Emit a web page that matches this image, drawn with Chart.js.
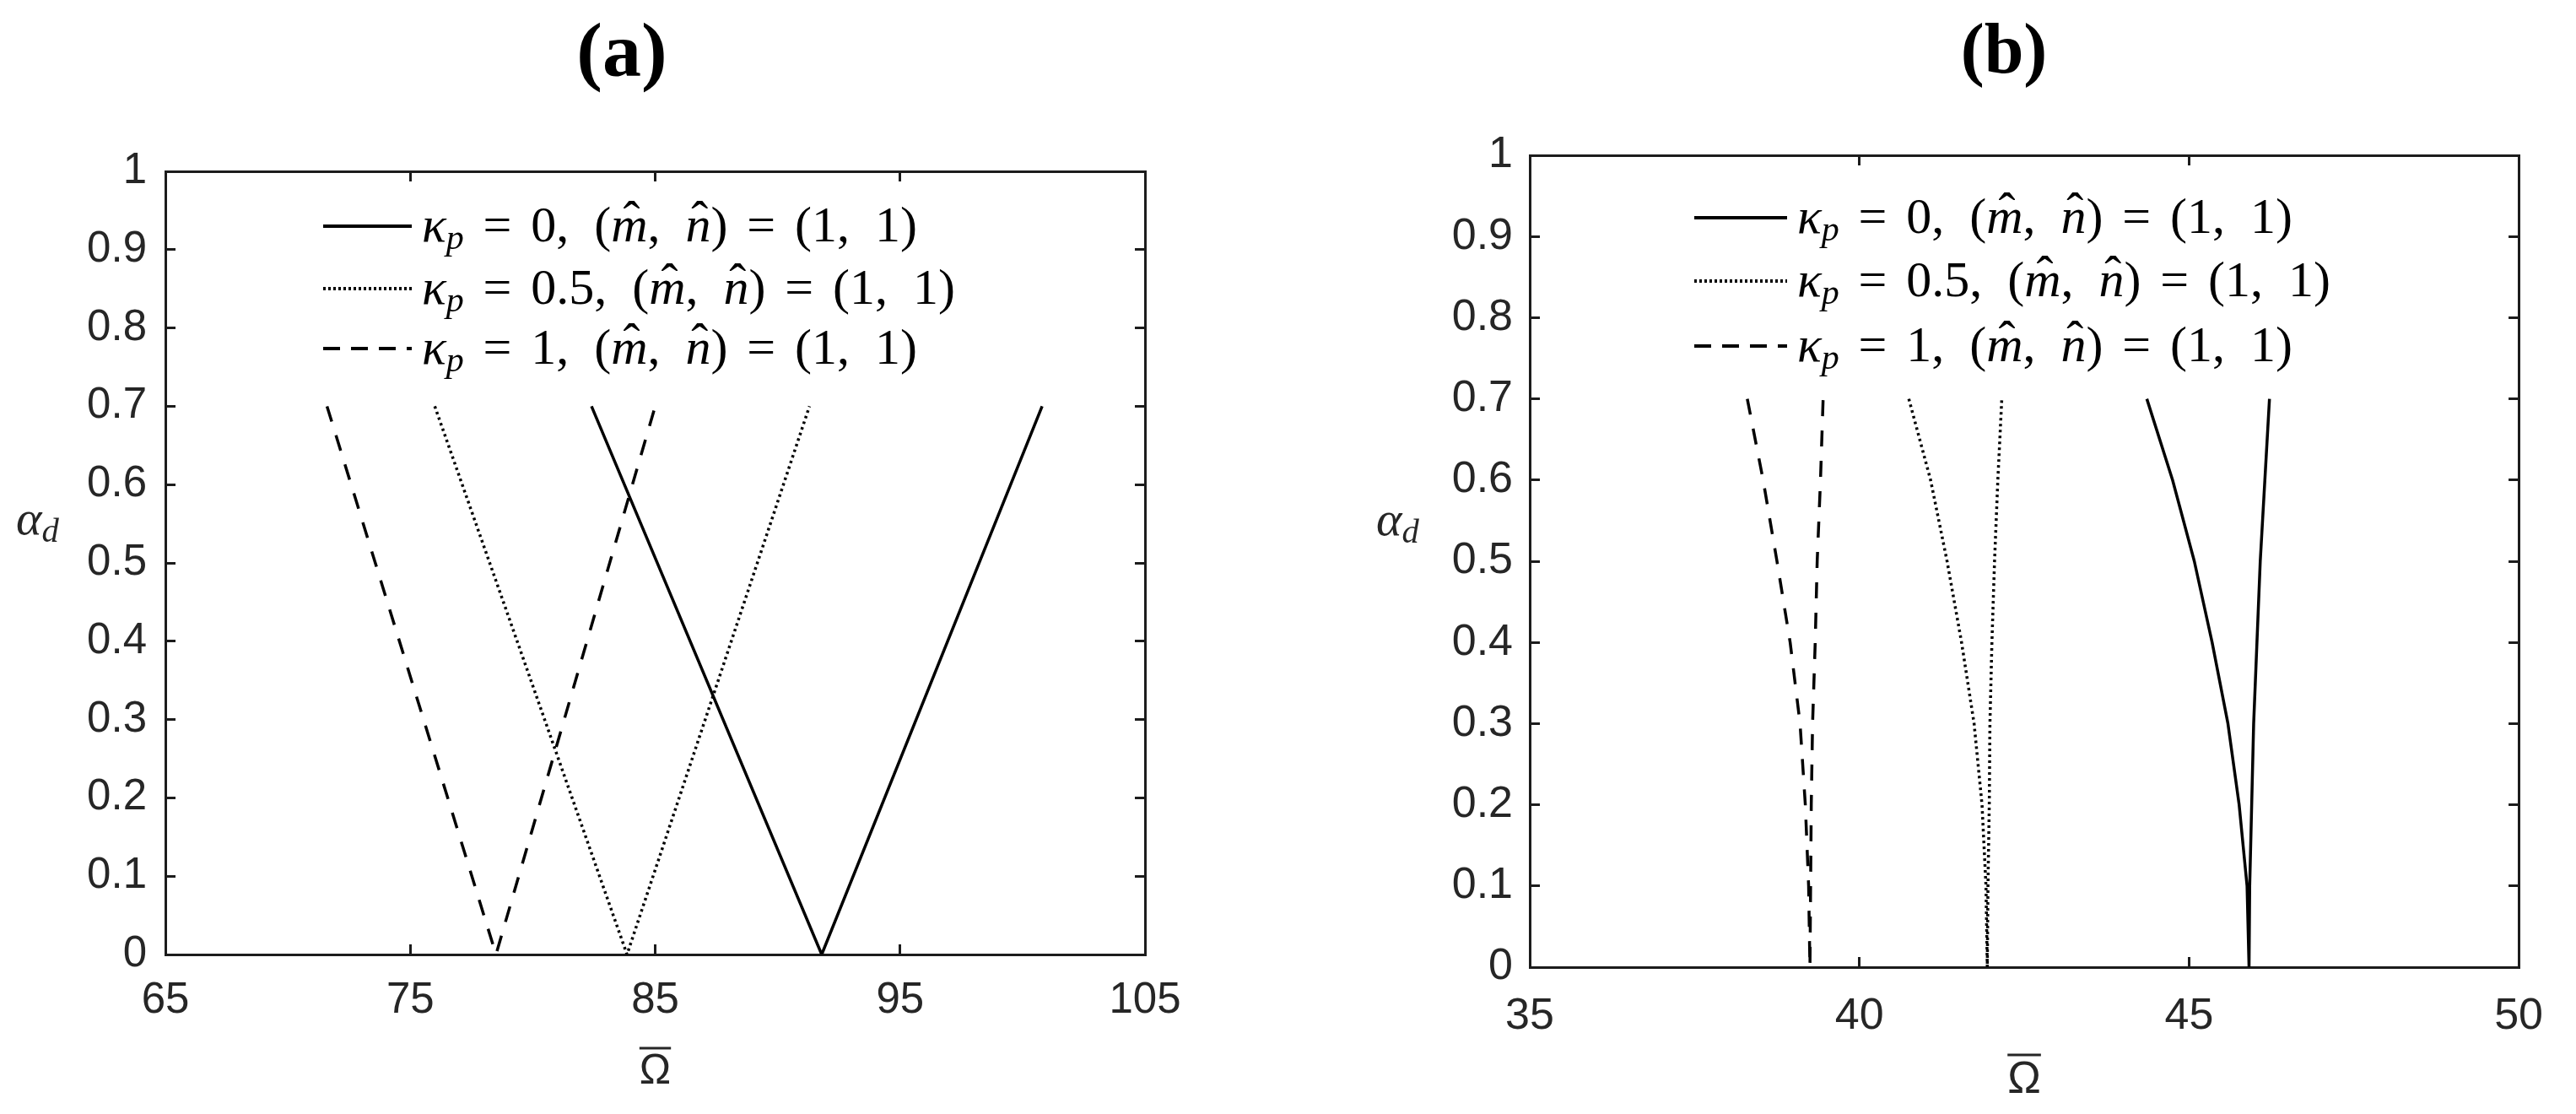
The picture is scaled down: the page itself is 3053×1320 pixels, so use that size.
<!DOCTYPE html>
<html>
<head>
<meta charset="utf-8">
<script src="https://cdn.jsdelivr.net/npm/chart.js@4.4.0/dist/chart.umd.min.js"></script>
<style>
  html, body { margin: 0; padding: 0; background: #ffffff; overflow: hidden; }
  #wrap { position: relative; width: 3053px; height: 1320px; background: #fff; }
  canvas { position: absolute; top: 0; }
  #ca { left: 0; }
  #cb { left: 1530px; }
</style>
</head>
<body>
<div id="wrap">
  <canvas id="ca" width="1500" height="1320"></canvas>
  <canvas id="cb" width="1523" height="1320"></canvas>
</div>
<script>
// ---------------- data ----------------
const panelTitles = ['(a)', '(b)'];
const seriesLabels = ['κ_p = 0, (m\u0302, n\u0302) = (1, 1)', 'κ_p = 0.5, (m\u0302, n\u0302) = (1, 1)', 'κ_p = 1, (m\u0302, n\u0302) = (1, 1)'];
const xAxisTitle = 'Ω';
const yAxisTitle = 'α_d';

const xTicksA = [65, 75, 85, 95, 105];
const xTickLabelsA = ['65', '75', '85', '95', '105'];
const xTicksB = [35, 40, 45, 50];
const xTickLabelsB = ['35', '40', '45', '50'];
const yTicks = [0, 0.1, 0.2, 0.3, 0.4, 0.5, 0.6, 0.7, 0.8, 0.9, 1];
const yTickLabels = ['0', '0.1', '0.2', '0.3', '0.4', '0.5', '0.6', '0.7', '0.8', '0.9', '1'];

// panel (a)
const aOmegaKp0 = [82.4, 91.8, 100.8];
const aAlphaKp0 = [0.7, 0, 0.7];
const aOmegaKp05 = [76.0, 83.85, 91.3];
const aAlphaKp05 = [0.7, 0, 0.7];
const aOmegaKp1 = [71.6, 78.5, 85.0];
const aAlphaKp1 = [0.7, 0, 0.7];

// panel (b)
const bAlpha = [0.7, 0.6, 0.5, 0.4, 0.3, 0.2, 0.1, 0, 0.1, 0.2, 0.3, 0.4, 0.5, 0.6, 0.7];
const bOmegaKp0 = [44.36, 44.75, 45.08, 45.35, 45.59, 45.76, 45.88, 45.91, 45.92, 45.95, 45.98, 46.03, 46.08, 46.15, 46.22];
const bOmegaKp05 = [40.75, 41.08, 41.33, 41.55, 41.74, 41.86, 41.92, 41.94, 41.95, 41.97, 41.98, 42.01, 42.05, 42.10, 42.16];
const bOmegaKp1 = [38.30, 38.54, 38.75, 38.95, 39.10, 39.18, 39.23, 39.25, 39.26, 39.27, 39.29, 39.33, 39.36, 39.41, 39.45];

// ---------------- styles ----------------
const AXIS_COLOR = '#1c1c1c';
const LINE_COLOR = '#000000';
const SANS = '"Liberation Sans", Arial, Helvetica, sans-serif';
const SERIF = '"Liberation Serif", "Times New Roman", serif';
const lineDashes = [[], [3, 4], [19, 17]];
const legendDashes = [[], [3, 3], [20, 13]];

function pts(xs, ys) { return xs.map((x, i) => ({ x: x, y: ys[i] })); }

function isLetter(c) { return /\p{L}/u.test(c); }

function drawMath(ctx, str, x, y, size, spacing) {
  let prev = '';
  ctx.textAlign = 'left';
  ctx.textBaseline = 'alphabetic';
  for (let i = 0; i < str.length; i++) {
    const ch = str[i];
    if (ch === '_') {
      const s = str[i + 1]; i++;
      const fs = size * 0.7;
      ctx.font = (isLetter(s) ? 'italic ' : '') + fs + 'px ' + SERIF;
      ctx.fillText(s, x, y + size * 0.15);
      x += ctx.measureText(s).width; prev = s; continue;
    }
    if (ch === ' ') { x += (prev === ',' ? spacing.comma : spacing.rel) * size; prev = ch; continue; }
    const hat = str[i + 1] === '\u0302';
    ctx.font = (isLetter(ch) ? 'italic ' : '') + size + 'px ' + SERIF;
    ctx.fillText(ch, x, y);
    const w = ctx.measureText(ch).width;
    if (hat) {
      ctx.font = size + 'px ' + SERIF;
      ctx.textAlign = 'center';
      ctx.fillText('\u02C6', x + w * 0.56, y - size * 0.12);
      ctx.textAlign = 'left';
      i++;
    }
    x += w; prev = ch;
  }
  return x;
}

const panelDecor = {
  id: 'panelDecor',
  afterDraw(chart, args, o) {
    const { ctx, chartArea } = chart;
    ctx.save();
    ctx.fillStyle = '#000';
    // panel title
    ctx.font = 'bold ' + o.titleSize + 'px ' + SERIF;
    ctx.textAlign = 'center';
    ctx.textBaseline = 'middle';
    ctx.fillText(o.title, o.titleX, o.titleY);
    // y-axis label (horizontal)
    ctx.fillStyle = '#262626';
    drawMath(ctx, yAxisTitle, chartArea.left + o.yLabelDX, chartArea.top + o.yLabelDY, o.yLabelSize, { rel: 0.3, comma: 0.3 });
    // overline of x-axis title
    const xs = chart.scales.x;
    const tOpt = xs.options.title;
    const lh = tOpt.font.size * 1.2;
    const tY = xs.bottom - lh / 2 - tOpt.padding.bottom;
    const tX = (xs.left + xs.right) / 2;
    ctx.font = tOpt.font.size + 'px ' + SANS;
    const ow = ctx.measureText(xAxisTitle).width;
    ctx.strokeStyle = '#262626';
    ctx.lineWidth = 3;
    ctx.beginPath();
    const oy = tY - tOpt.font.size * 0.36 - o.overlineGap;
    ctx.moveTo(tX - ow / 2, oy);
    ctx.lineTo(tX + ow / 2, oy);
    ctx.stroke();
    // legend
    ctx.fillStyle = '#000';
    chart.data.datasets.forEach((ds, i) => {
      const ly = chartArea.top + o.legendRows[i];
      ctx.strokeStyle = LINE_COLOR;
      ctx.lineWidth = 4;
      ctx.setLineDash(legendDashes[i]);
      ctx.beginPath();
      ctx.moveTo(chartArea.left + o.legendLine[0], ly);
      ctx.lineTo(chartArea.left + o.legendLine[1], ly);
      ctx.stroke();
      ctx.setLineDash([]);
      drawMath(ctx, ds.label, chartArea.left + o.legendTextX, ly + o.legendSize * 0.3, o.legendSize, { rel: 0.38, comma: 0.5 });
    });
    ctx.restore();
  }
};

function makeDatasets(series) {
  return series.map((s, i) => ({
    label: seriesLabels[i],
    data: s,
    showLine: true,
    borderColor: LINE_COLOR,
    backgroundColor: LINE_COLOR,
    borderWidth: 3.5,
    borderDash: lineDashes[i],
    borderCapStyle: 'butt',
    borderJoinStyle: 'round',
    pointRadius: 0,
    pointHoverRadius: 0,
    tension: 0
  }));
}

function axis(pos, min, max, ticks, labels, L, extra) {
  const horizontal = (pos === 'top' || pos === 'bottom');
  const showLabels = (pos === 'bottom' || pos === 'left');
  const cfg = {
    type: 'linear',
    position: pos,
    min: min,
    max: max,
    afterBuildTicks: (s) => { s.ticks = ticks.map(v => ({ value: v })); },
    afterFit: (s) => { if (horizontal) s.height = extra.size; else s.width = extra.size; },
    ticks: {
      display: showLabels,
      autoSkip: false,
      maxRotation: 0,
      minRotation: 0,
      padding: extra.pad || 0,
      color: '#262626',
      font: { family: SANS, size: L.tickFont },
      callback: (v, idx) => labels[idx]
    },
    grid: {
      drawOnChartArea: false,
      drawTicks: true,
      tickLength: -12,
      tickWidth: 3,
      color: AXIS_COLOR
    },
    border: { display: true, color: AXIS_COLOR, width: 3 }
  };
  if (pos === 'bottom') {
    cfg.title = {
      display: true,
      text: xAxisTitle,
      color: '#262626',
      font: { family: SANS, size: L.xTitleFont },
      padding: { top: 0, bottom: L.xTitlePad }
    };
  }
  return cfg;
}

function makeChart(id, series, xmin, xmax, xticks, xlabels, L) {
  return new Chart(document.getElementById(id), {
    type: 'scatter',
    data: { datasets: makeDatasets(series) },
    options: {
      responsive: false,
      animation: false,
      devicePixelRatio: 1,
      layout: { padding: 0 },
      plugins: {
        legend: { display: false },
        tooltip: { enabled: false },
        title: { display: false },
        panelDecor: L.decor
      },
      scales: {
        x: axis('bottom', xmin, xmax, xticks, xlabels, L, { size: L.xH, pad: L.xPad }),
        x2: axis('top', xmin, xmax, xticks, xlabels, L, { size: L.x2H }),
        y: axis('left', 0, 1, yTicks, yTickLabels, L, { size: L.yW, pad: L.yPad }),
        y2: axis('right', 0, 1, yTicks, yTickLabels, L, { size: L.y2W })
      }
    },
    plugins: [panelDecor]
  });
}

makeChart('ca',
  [pts(aOmegaKp0, aAlphaKp0), pts(aOmegaKp05, aAlphaKp05), pts(aOmegaKp1, aAlphaKp1)],
  65, 105, xTicksA, xTickLabelsA,
  {
    tickFont: 51, xTitleFont: 50, xTitlePad: 20,
    xH: 189, x2H: 203, yW: 196, y2W: 143, xPad: 36, yPad: 34,
    decor: {
      title: panelTitles[0], titleSize: 92, titleX: 737, titleY: 66,
      yLabelDX: -177, yLabelDY: 430, yLabelSize: 58,
      overlineGap: 10,
      legendRows: [65, 139, 210], legendLine: [187, 292], legendTextX: 304, legendSize: 60
    }
  });

makeChart('cb',
  [pts(bOmegaKp0, bAlpha), pts(bOmegaKp05, bAlpha), pts(bOmegaKp1, bAlpha)],
  35, 50, xTicksB, xTickLabelsB,
  {
    tickFont: 52, xTitleFont: 53, xTitlePad: 8,
    xH: 174, x2H: 184, yW: 283, y2W: 37, xPad: 39, yPad: 32,
    decor: {
      title: panelTitles[1], titleSize: 84, titleX: 845, titleY: 64,
      yLabelDX: -182, yLabelDY: 450, yLabelSize: 58,
      overlineGap: 11,
      legendRows: [74, 149, 226], legendLine: [195, 305], legendTextX: 317, legendSize: 60
    }
  });
</script>
</body>
</html>
